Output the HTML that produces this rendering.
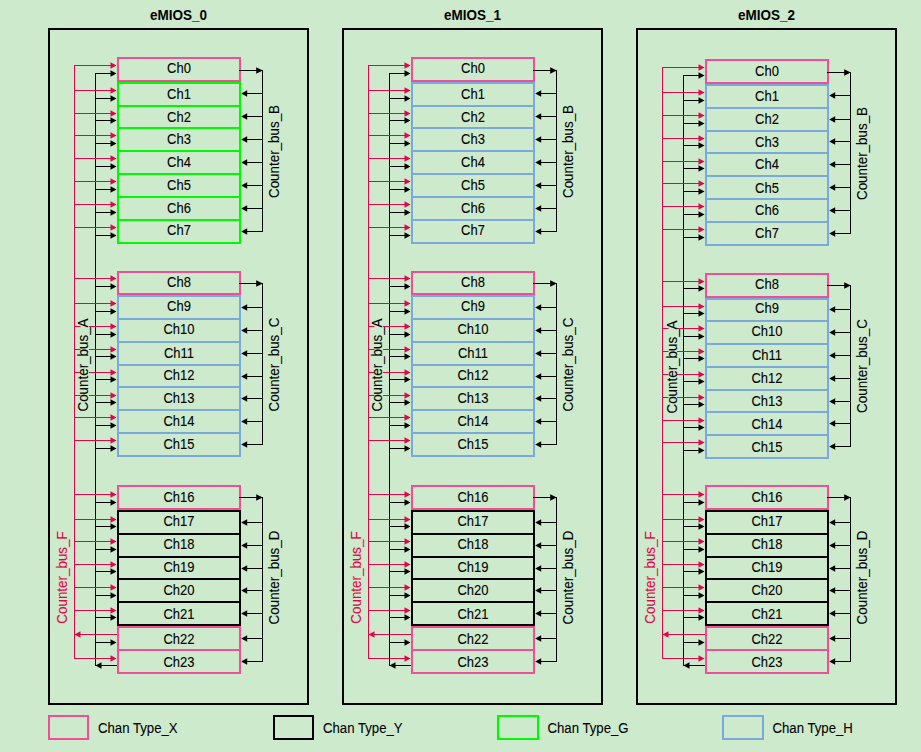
<!DOCTYPE html>
<html><head><meta charset="utf-8"><style>
html,body{margin:0;padding:0;background:#cdeacc;width:921px;height:752px;overflow:hidden;}
svg{display:block;}
text{font-family:"Liberation Sans", sans-serif;stroke-width:0.08px;paint-order:normal;}
</style></head><body>
<svg width="921" height="752" viewBox="0 0 921 752" font-family='"Liberation Sans", sans-serif'>
<rect width="921" height="752" fill="#cdeacc"/>
<rect x="49" y="29" width="259" height="675" fill="none" stroke="#000000" stroke-width="2"/>
<text transform="translate(178.5 19.8) scale(1 1.05)" font-size="13.5" font-weight="bold" text-anchor="middle" fill="#000">eMIOS_0</text>
<path d="M74.5 65.5V658.5" stroke="#e0064a" stroke-width="1" fill="none"/>
<path d="M95.5 73.5V665.5" stroke="#000000" stroke-width="1" fill="none"/>
<path d="M262.5 70.5V231.5" stroke="#000000" stroke-width="1" fill="none"/>
<path d="M262.5 283.5V444.5" stroke="#000000" stroke-width="1" fill="none"/>
<path d="M262.5 497.5V661.5" stroke="#000000" stroke-width="1" fill="none"/>
<rect x="118" y="58" width="122" height="23" fill="none" stroke="#ef4e98" stroke-width="2"/>
<rect x="118" y="83" width="122" height="23" fill="none" stroke="#00f800" stroke-width="2"/>
<rect x="118" y="106" width="122" height="22" fill="none" stroke="#00f800" stroke-width="2"/>
<rect x="118" y="128" width="122" height="23" fill="none" stroke="#00f800" stroke-width="2"/>
<rect x="118" y="151" width="122" height="23" fill="none" stroke="#00f800" stroke-width="2"/>
<rect x="118" y="174" width="122" height="23" fill="none" stroke="#00f800" stroke-width="2"/>
<rect x="118" y="197" width="122" height="23" fill="none" stroke="#00f800" stroke-width="2"/>
<rect x="118" y="220" width="122" height="23" fill="none" stroke="#00f800" stroke-width="2"/>
<rect x="118" y="272" width="122" height="22" fill="none" stroke="#ef4e98" stroke-width="2"/>
<rect x="118" y="296" width="122" height="23" fill="none" stroke="#7aaadc" stroke-width="2"/>
<rect x="118" y="319" width="122" height="23" fill="none" stroke="#7aaadc" stroke-width="2"/>
<rect x="118" y="342" width="122" height="23" fill="none" stroke="#7aaadc" stroke-width="2"/>
<rect x="118" y="365" width="122" height="22" fill="none" stroke="#7aaadc" stroke-width="2"/>
<rect x="118" y="387" width="122" height="23" fill="none" stroke="#7aaadc" stroke-width="2"/>
<rect x="118" y="410" width="122" height="23" fill="none" stroke="#7aaadc" stroke-width="2"/>
<rect x="118" y="433" width="122" height="23" fill="none" stroke="#7aaadc" stroke-width="2"/>
<rect x="118" y="486" width="122" height="23" fill="none" stroke="#ef4e98" stroke-width="2"/>
<rect x="118" y="511" width="122" height="23" fill="none" stroke="#000000" stroke-width="2"/>
<rect x="118" y="534" width="122" height="23" fill="none" stroke="#000000" stroke-width="2"/>
<rect x="118" y="557" width="122" height="22" fill="none" stroke="#000000" stroke-width="2"/>
<rect x="118" y="579" width="122" height="23" fill="none" stroke="#000000" stroke-width="2"/>
<rect x="118" y="602" width="122" height="23" fill="none" stroke="#000000" stroke-width="2"/>
<rect x="118" y="627" width="122" height="23" fill="none" stroke="#ef4e98" stroke-width="2"/>
<rect x="118" y="650" width="122" height="23" fill="none" stroke="#ef4e98" stroke-width="2"/>
<path d="M74.0 65.5H116" stroke="#e0064a" stroke-width="1"/>
<path d="M116.5 65.5L110.5 62.3V68.7Z" fill="#e0064a"/>
<path d="M95.0 73.5H116" stroke="#000000" stroke-width="1"/>
<path d="M116.5 73.5L110.5 70.3V76.7Z" fill="#000000"/>
<path d="M239 70.5H263.0" stroke="#000000" stroke-width="1"/>
<path d="M262.8 70.5L256.2 67.3V73.7Z" fill="#000000"/>
<path d="M74.0 90.5H116" stroke="#e0064a" stroke-width="1"/>
<path d="M116.5 90.5L110.5 87.3V93.7Z" fill="#e0064a"/>
<path d="M95.0 98.5H116" stroke="#000000" stroke-width="1"/>
<path d="M116.5 98.5L110.5 95.3V101.7Z" fill="#000000"/>
<path d="M263.0 93.5H242" stroke="#000000" stroke-width="1"/>
<path d="M241.2 93.5L247.2 90.3V96.7Z" fill="#000000"/>
<path d="M74.0 113.5H116" stroke="#e0064a" stroke-width="1"/>
<path d="M116.5 113.5L110.5 110.3V116.7Z" fill="#e0064a"/>
<path d="M95.0 120.5H116" stroke="#000000" stroke-width="1"/>
<path d="M116.5 120.5L110.5 117.3V123.7Z" fill="#000000"/>
<path d="M263.0 116.5H242" stroke="#000000" stroke-width="1"/>
<path d="M241.2 116.5L247.2 113.3V119.7Z" fill="#000000"/>
<path d="M74.0 135.5H116" stroke="#e0064a" stroke-width="1"/>
<path d="M116.5 135.5L110.5 132.3V138.7Z" fill="#e0064a"/>
<path d="M95.0 143.5H116" stroke="#000000" stroke-width="1"/>
<path d="M116.5 143.5L110.5 140.3V146.7Z" fill="#000000"/>
<path d="M263.0 139.5H242" stroke="#000000" stroke-width="1"/>
<path d="M241.2 139.5L247.2 136.3V142.7Z" fill="#000000"/>
<path d="M74.0 158.5H116" stroke="#e0064a" stroke-width="1"/>
<path d="M116.5 158.5L110.5 155.3V161.7Z" fill="#e0064a"/>
<path d="M95.0 166.5H116" stroke="#000000" stroke-width="1"/>
<path d="M116.5 166.5L110.5 163.3V169.7Z" fill="#000000"/>
<path d="M263.0 162.5H242" stroke="#000000" stroke-width="1"/>
<path d="M241.2 162.5L247.2 159.3V165.7Z" fill="#000000"/>
<path d="M74.0 181.5H116" stroke="#e0064a" stroke-width="1"/>
<path d="M116.5 181.5L110.5 178.3V184.7Z" fill="#e0064a"/>
<path d="M95.0 189.5H116" stroke="#000000" stroke-width="1"/>
<path d="M116.5 189.5L110.5 186.3V192.7Z" fill="#000000"/>
<path d="M263.0 185.5H242" stroke="#000000" stroke-width="1"/>
<path d="M241.2 185.5L247.2 182.3V188.7Z" fill="#000000"/>
<path d="M74.0 204.5H116" stroke="#e0064a" stroke-width="1"/>
<path d="M116.5 204.5L110.5 201.3V207.7Z" fill="#e0064a"/>
<path d="M95.0 212.5H116" stroke="#000000" stroke-width="1"/>
<path d="M116.5 212.5L110.5 209.3V215.7Z" fill="#000000"/>
<path d="M263.0 208.5H242" stroke="#000000" stroke-width="1"/>
<path d="M241.2 208.5L247.2 205.3V211.7Z" fill="#000000"/>
<path d="M74.0 227.5H116" stroke="#e0064a" stroke-width="1"/>
<path d="M116.5 227.5L110.5 224.3V230.7Z" fill="#e0064a"/>
<path d="M95.0 235.5H116" stroke="#000000" stroke-width="1"/>
<path d="M116.5 235.5L110.5 232.3V238.7Z" fill="#000000"/>
<path d="M263.0 231.5H242" stroke="#000000" stroke-width="1"/>
<path d="M241.2 231.5L247.2 228.3V234.7Z" fill="#000000"/>
<path d="M74.0 278.5H116" stroke="#e0064a" stroke-width="1"/>
<path d="M116.5 278.5L110.5 275.3V281.7Z" fill="#e0064a"/>
<path d="M95.0 286.5H116" stroke="#000000" stroke-width="1"/>
<path d="M116.5 286.5L110.5 283.3V289.7Z" fill="#000000"/>
<path d="M239 283.5H263.0" stroke="#000000" stroke-width="1"/>
<path d="M262.8 283.5L256.2 280.3V286.7Z" fill="#000000"/>
<path d="M74.0 303.5H116" stroke="#e0064a" stroke-width="1"/>
<path d="M116.5 303.5L110.5 300.3V306.7Z" fill="#e0064a"/>
<path d="M95.0 311.5H116" stroke="#000000" stroke-width="1"/>
<path d="M116.5 311.5L110.5 308.3V314.7Z" fill="#000000"/>
<path d="M263.0 307.5H242" stroke="#000000" stroke-width="1"/>
<path d="M241.2 307.5L247.2 304.3V310.7Z" fill="#000000"/>
<path d="M74.0 326.5H116" stroke="#e0064a" stroke-width="1"/>
<path d="M116.5 326.5L110.5 323.3V329.7Z" fill="#e0064a"/>
<path d="M95.0 334.5H116" stroke="#000000" stroke-width="1"/>
<path d="M116.5 334.5L110.5 331.3V337.7Z" fill="#000000"/>
<path d="M263.0 330.5H242" stroke="#000000" stroke-width="1"/>
<path d="M241.2 330.5L247.2 327.3V333.7Z" fill="#000000"/>
<path d="M74.0 349.5H116" stroke="#e0064a" stroke-width="1"/>
<path d="M116.5 349.5L110.5 346.3V352.7Z" fill="#e0064a"/>
<path d="M95.0 356.5H116" stroke="#000000" stroke-width="1"/>
<path d="M116.5 356.5L110.5 353.3V359.7Z" fill="#000000"/>
<path d="M263.0 353.5H242" stroke="#000000" stroke-width="1"/>
<path d="M241.2 353.5L247.2 350.3V356.7Z" fill="#000000"/>
<path d="M74.0 372.5H116" stroke="#e0064a" stroke-width="1"/>
<path d="M116.5 372.5L110.5 369.3V375.7Z" fill="#e0064a"/>
<path d="M95.0 379.5H116" stroke="#000000" stroke-width="1"/>
<path d="M116.5 379.5L110.5 376.3V382.7Z" fill="#000000"/>
<path d="M263.0 376.5H242" stroke="#000000" stroke-width="1"/>
<path d="M241.2 376.5L247.2 373.3V379.7Z" fill="#000000"/>
<path d="M74.0 395.5H116" stroke="#e0064a" stroke-width="1"/>
<path d="M116.5 395.5L110.5 392.3V398.7Z" fill="#e0064a"/>
<path d="M95.0 402.5H116" stroke="#000000" stroke-width="1"/>
<path d="M116.5 402.5L110.5 399.3V405.7Z" fill="#000000"/>
<path d="M263.0 398.5H242" stroke="#000000" stroke-width="1"/>
<path d="M241.2 398.5L247.2 395.3V401.7Z" fill="#000000"/>
<path d="M74.0 417.5H116" stroke="#e0064a" stroke-width="1"/>
<path d="M116.5 417.5L110.5 414.3V420.7Z" fill="#e0064a"/>
<path d="M95.0 425.5H116" stroke="#000000" stroke-width="1"/>
<path d="M116.5 425.5L110.5 422.3V428.7Z" fill="#000000"/>
<path d="M263.0 421.5H242" stroke="#000000" stroke-width="1"/>
<path d="M241.2 421.5L247.2 418.3V424.7Z" fill="#000000"/>
<path d="M74.0 440.5H116" stroke="#e0064a" stroke-width="1"/>
<path d="M116.5 440.5L110.5 437.3V443.7Z" fill="#e0064a"/>
<path d="M95.0 448.5H116" stroke="#000000" stroke-width="1"/>
<path d="M116.5 448.5L110.5 445.3V451.7Z" fill="#000000"/>
<path d="M263.0 444.5H242" stroke="#000000" stroke-width="1"/>
<path d="M241.2 444.5L247.2 441.3V447.7Z" fill="#000000"/>
<path d="M74.0 494.5H116" stroke="#e0064a" stroke-width="1"/>
<path d="M116.5 494.5L110.5 491.3V497.7Z" fill="#e0064a"/>
<path d="M95.0 502.5H116" stroke="#000000" stroke-width="1"/>
<path d="M116.5 502.5L110.5 499.3V505.7Z" fill="#000000"/>
<path d="M239 497.5H263.0" stroke="#000000" stroke-width="1"/>
<path d="M262.8 497.5L256.2 494.3V500.7Z" fill="#000000"/>
<path d="M74.0 519.5H116" stroke="#e0064a" stroke-width="1"/>
<path d="M116.5 519.5L110.5 516.3V522.7Z" fill="#e0064a"/>
<path d="M95.0 526.5H116" stroke="#000000" stroke-width="1"/>
<path d="M116.5 526.5L110.5 523.3V529.7Z" fill="#000000"/>
<path d="M263.0 522.5H242" stroke="#000000" stroke-width="1"/>
<path d="M241.2 522.5L247.2 519.3V525.7Z" fill="#000000"/>
<path d="M74.0 541.5H116" stroke="#e0064a" stroke-width="1"/>
<path d="M116.5 541.5L110.5 538.3V544.7Z" fill="#e0064a"/>
<path d="M95.0 549.5H116" stroke="#000000" stroke-width="1"/>
<path d="M116.5 549.5L110.5 546.3V552.7Z" fill="#000000"/>
<path d="M263.0 545.5H242" stroke="#000000" stroke-width="1"/>
<path d="M241.2 545.5L247.2 542.3V548.7Z" fill="#000000"/>
<path d="M74.0 564.5H116" stroke="#e0064a" stroke-width="1"/>
<path d="M116.5 564.5L110.5 561.3V567.7Z" fill="#e0064a"/>
<path d="M95.0 571.5H116" stroke="#000000" stroke-width="1"/>
<path d="M116.5 571.5L110.5 568.3V574.7Z" fill="#000000"/>
<path d="M263.0 568.5H242" stroke="#000000" stroke-width="1"/>
<path d="M241.2 568.5L247.2 565.3V571.7Z" fill="#000000"/>
<path d="M74.0 587.5H116" stroke="#e0064a" stroke-width="1"/>
<path d="M116.5 587.5L110.5 584.3V590.7Z" fill="#e0064a"/>
<path d="M95.0 595.5H116" stroke="#000000" stroke-width="1"/>
<path d="M116.5 595.5L110.5 592.3V598.7Z" fill="#000000"/>
<path d="M263.0 590.5H242" stroke="#000000" stroke-width="1"/>
<path d="M241.2 590.5L247.2 587.3V593.7Z" fill="#000000"/>
<path d="M74.0 610.5H116" stroke="#e0064a" stroke-width="1"/>
<path d="M116.5 610.5L110.5 607.3V613.7Z" fill="#e0064a"/>
<path d="M95.0 617.5H116" stroke="#000000" stroke-width="1"/>
<path d="M116.5 617.5L110.5 614.3V620.7Z" fill="#000000"/>
<path d="M263.0 613.5H242" stroke="#000000" stroke-width="1"/>
<path d="M241.2 613.5L247.2 610.3V616.7Z" fill="#000000"/>
<path d="M117 634.5H74.0" stroke="#e0064a" stroke-width="1"/>
<path d="M74.5 634.5L80.5 631.3V637.7Z" fill="#e0064a"/>
<path d="M95.0 642.5H116" stroke="#000000" stroke-width="1"/>
<path d="M116.5 642.5L110.5 639.3V645.7Z" fill="#000000"/>
<path d="M263.0 638.5H242" stroke="#000000" stroke-width="1"/>
<path d="M241.2 638.5L247.2 635.3V641.7Z" fill="#000000"/>
<path d="M74.0 658.5H116" stroke="#e0064a" stroke-width="1"/>
<path d="M116.5 658.5L110.5 655.3V661.7Z" fill="#e0064a"/>
<path d="M117 665.5H95.0" stroke="#000000" stroke-width="1"/>
<path d="M95.5 665.5L101.5 662.3V668.7Z" fill="#000000"/>
<path d="M263.0 661.5H242" stroke="#000000" stroke-width="1"/>
<path d="M241.2 661.5L247.2 658.3V664.7Z" fill="#000000"/>
<text transform="translate(179 72.5) scale(1 1.1)" font-size="13" text-anchor="middle" fill="#000" stroke="#000">Ch0</text>
<text transform="translate(179 98.6) scale(1 1.1)" font-size="13" text-anchor="middle" fill="#000" stroke="#000">Ch1</text>
<text transform="translate(179 122) scale(1 1.1)" font-size="13" text-anchor="middle" fill="#000" stroke="#000">Ch2</text>
<text transform="translate(179 143.8) scale(1 1.1)" font-size="13" text-anchor="middle" fill="#000" stroke="#000">Ch3</text>
<text transform="translate(179 166.8) scale(1 1.1)" font-size="13" text-anchor="middle" fill="#000" stroke="#000">Ch4</text>
<text transform="translate(179 189.6) scale(1 1.1)" font-size="13" text-anchor="middle" fill="#000" stroke="#000">Ch5</text>
<text transform="translate(179 212.8) scale(1 1.1)" font-size="13" text-anchor="middle" fill="#000" stroke="#000">Ch6</text>
<text transform="translate(179 235.4) scale(1 1.1)" font-size="13" text-anchor="middle" fill="#000" stroke="#000">Ch7</text>
<text transform="translate(179 286.5) scale(1 1.1)" font-size="13" text-anchor="middle" fill="#000" stroke="#000">Ch8</text>
<text transform="translate(179 311.3) scale(1 1.1)" font-size="13" text-anchor="middle" fill="#000" stroke="#000">Ch9</text>
<text transform="translate(179 334.4) scale(1 1.1)" font-size="13" text-anchor="middle" fill="#000" stroke="#000">Ch10</text>
<text transform="translate(179 357.5) scale(1 1.1)" font-size="13" text-anchor="middle" fill="#000" stroke="#000">Ch11</text>
<text transform="translate(179 380.2) scale(1 1.1)" font-size="13" text-anchor="middle" fill="#000" stroke="#000">Ch12</text>
<text transform="translate(179 403.4) scale(1 1.1)" font-size="13" text-anchor="middle" fill="#000" stroke="#000">Ch13</text>
<text transform="translate(179 426.4) scale(1 1.1)" font-size="13" text-anchor="middle" fill="#000" stroke="#000">Ch14</text>
<text transform="translate(179 449.2) scale(1 1.1)" font-size="13" text-anchor="middle" fill="#000" stroke="#000">Ch15</text>
<text transform="translate(179 501.5) scale(1 1.1)" font-size="13" text-anchor="middle" fill="#000" stroke="#000">Ch16</text>
<text transform="translate(179 526.3) scale(1 1.1)" font-size="13" text-anchor="middle" fill="#000" stroke="#000">Ch17</text>
<text transform="translate(179 549.4) scale(1 1.1)" font-size="13" text-anchor="middle" fill="#000" stroke="#000">Ch18</text>
<text transform="translate(179 572.2) scale(1 1.1)" font-size="13" text-anchor="middle" fill="#000" stroke="#000">Ch19</text>
<text transform="translate(179 594.9) scale(1 1.1)" font-size="13" text-anchor="middle" fill="#000" stroke="#000">Ch20</text>
<text transform="translate(179 618.9) scale(1 1.1)" font-size="13" text-anchor="middle" fill="#000" stroke="#000">Ch21</text>
<text transform="translate(179 643.8) scale(1 1.1)" font-size="13" text-anchor="middle" fill="#000" stroke="#000">Ch22</text>
<text transform="translate(179 666.8) scale(1 1.1)" font-size="13" text-anchor="middle" fill="#000" stroke="#000">Ch23</text>
<rect x="80.5" y="320" width="8.5" height="90" fill="#cdeacc"/>
<text transform="translate(88.2 365) rotate(-90) scale(1 1.1)" font-size="13.4" text-anchor="middle" fill="#000000" stroke="#000000">Counter_bus_A</text>
<text transform="translate(279 151.5) rotate(-90) scale(1 1.1)" font-size="13.4" text-anchor="middle" fill="#000000" stroke="#000000">Counter_bus_B</text>
<text transform="translate(279 364.5) rotate(-90) scale(1 1.1)" font-size="13.4" text-anchor="middle" fill="#000000" stroke="#000000">Counter_bus_C</text>
<text transform="translate(279 577.5) rotate(-90) scale(1 1.1)" font-size="13.4" text-anchor="middle" fill="#000000" stroke="#000000">Counter_bus_D</text>
<text transform="translate(66.8 577.5) rotate(-90) scale(1 1.1)" font-size="13.4" text-anchor="middle" fill="#e0064a" stroke="#e0064a">Counter_bus_F</text>
<rect x="343" y="29" width="259" height="675" fill="none" stroke="#000000" stroke-width="2"/>
<text transform="translate(472.5 19.8) scale(1 1.05)" font-size="13.5" font-weight="bold" text-anchor="middle" fill="#000">eMIOS_1</text>
<path d="M368.5 65.5V658.5" stroke="#e0064a" stroke-width="1" fill="none"/>
<path d="M389.5 73.5V665.5" stroke="#000000" stroke-width="1" fill="none"/>
<path d="M556.5 70.5V231.5" stroke="#000000" stroke-width="1" fill="none"/>
<path d="M556.5 283.5V444.5" stroke="#000000" stroke-width="1" fill="none"/>
<path d="M556.5 497.5V661.5" stroke="#000000" stroke-width="1" fill="none"/>
<rect x="412" y="58" width="122" height="23" fill="none" stroke="#ef4e98" stroke-width="2"/>
<rect x="412" y="83" width="122" height="23" fill="none" stroke="#7aaadc" stroke-width="2"/>
<rect x="412" y="106" width="122" height="22" fill="none" stroke="#7aaadc" stroke-width="2"/>
<rect x="412" y="128" width="122" height="23" fill="none" stroke="#7aaadc" stroke-width="2"/>
<rect x="412" y="151" width="122" height="23" fill="none" stroke="#7aaadc" stroke-width="2"/>
<rect x="412" y="174" width="122" height="23" fill="none" stroke="#7aaadc" stroke-width="2"/>
<rect x="412" y="197" width="122" height="23" fill="none" stroke="#7aaadc" stroke-width="2"/>
<rect x="412" y="220" width="122" height="23" fill="none" stroke="#7aaadc" stroke-width="2"/>
<rect x="412" y="272" width="122" height="22" fill="none" stroke="#ef4e98" stroke-width="2"/>
<rect x="412" y="296" width="122" height="23" fill="none" stroke="#7aaadc" stroke-width="2"/>
<rect x="412" y="319" width="122" height="23" fill="none" stroke="#7aaadc" stroke-width="2"/>
<rect x="412" y="342" width="122" height="23" fill="none" stroke="#7aaadc" stroke-width="2"/>
<rect x="412" y="365" width="122" height="22" fill="none" stroke="#7aaadc" stroke-width="2"/>
<rect x="412" y="387" width="122" height="23" fill="none" stroke="#7aaadc" stroke-width="2"/>
<rect x="412" y="410" width="122" height="23" fill="none" stroke="#7aaadc" stroke-width="2"/>
<rect x="412" y="433" width="122" height="23" fill="none" stroke="#7aaadc" stroke-width="2"/>
<rect x="412" y="486" width="122" height="23" fill="none" stroke="#ef4e98" stroke-width="2"/>
<rect x="412" y="511" width="122" height="23" fill="none" stroke="#000000" stroke-width="2"/>
<rect x="412" y="534" width="122" height="23" fill="none" stroke="#000000" stroke-width="2"/>
<rect x="412" y="557" width="122" height="22" fill="none" stroke="#000000" stroke-width="2"/>
<rect x="412" y="579" width="122" height="23" fill="none" stroke="#000000" stroke-width="2"/>
<rect x="412" y="602" width="122" height="23" fill="none" stroke="#000000" stroke-width="2"/>
<rect x="412" y="627" width="122" height="23" fill="none" stroke="#ef4e98" stroke-width="2"/>
<rect x="412" y="650" width="122" height="23" fill="none" stroke="#ef4e98" stroke-width="2"/>
<path d="M368.0 65.5H410" stroke="#e0064a" stroke-width="1"/>
<path d="M410.5 65.5L404.5 62.3V68.7Z" fill="#e0064a"/>
<path d="M389.0 73.5H410" stroke="#000000" stroke-width="1"/>
<path d="M410.5 73.5L404.5 70.3V76.7Z" fill="#000000"/>
<path d="M533 70.5H557.0" stroke="#000000" stroke-width="1"/>
<path d="M556.8 70.5L550.2 67.3V73.7Z" fill="#000000"/>
<path d="M368.0 90.5H410" stroke="#e0064a" stroke-width="1"/>
<path d="M410.5 90.5L404.5 87.3V93.7Z" fill="#e0064a"/>
<path d="M389.0 98.5H410" stroke="#000000" stroke-width="1"/>
<path d="M410.5 98.5L404.5 95.3V101.7Z" fill="#000000"/>
<path d="M557.0 93.5H536" stroke="#000000" stroke-width="1"/>
<path d="M535.2 93.5L541.2 90.3V96.7Z" fill="#000000"/>
<path d="M368.0 113.5H410" stroke="#e0064a" stroke-width="1"/>
<path d="M410.5 113.5L404.5 110.3V116.7Z" fill="#e0064a"/>
<path d="M389.0 120.5H410" stroke="#000000" stroke-width="1"/>
<path d="M410.5 120.5L404.5 117.3V123.7Z" fill="#000000"/>
<path d="M557.0 116.5H536" stroke="#000000" stroke-width="1"/>
<path d="M535.2 116.5L541.2 113.3V119.7Z" fill="#000000"/>
<path d="M368.0 135.5H410" stroke="#e0064a" stroke-width="1"/>
<path d="M410.5 135.5L404.5 132.3V138.7Z" fill="#e0064a"/>
<path d="M389.0 143.5H410" stroke="#000000" stroke-width="1"/>
<path d="M410.5 143.5L404.5 140.3V146.7Z" fill="#000000"/>
<path d="M557.0 139.5H536" stroke="#000000" stroke-width="1"/>
<path d="M535.2 139.5L541.2 136.3V142.7Z" fill="#000000"/>
<path d="M368.0 158.5H410" stroke="#e0064a" stroke-width="1"/>
<path d="M410.5 158.5L404.5 155.3V161.7Z" fill="#e0064a"/>
<path d="M389.0 166.5H410" stroke="#000000" stroke-width="1"/>
<path d="M410.5 166.5L404.5 163.3V169.7Z" fill="#000000"/>
<path d="M557.0 162.5H536" stroke="#000000" stroke-width="1"/>
<path d="M535.2 162.5L541.2 159.3V165.7Z" fill="#000000"/>
<path d="M368.0 181.5H410" stroke="#e0064a" stroke-width="1"/>
<path d="M410.5 181.5L404.5 178.3V184.7Z" fill="#e0064a"/>
<path d="M389.0 189.5H410" stroke="#000000" stroke-width="1"/>
<path d="M410.5 189.5L404.5 186.3V192.7Z" fill="#000000"/>
<path d="M557.0 185.5H536" stroke="#000000" stroke-width="1"/>
<path d="M535.2 185.5L541.2 182.3V188.7Z" fill="#000000"/>
<path d="M368.0 204.5H410" stroke="#e0064a" stroke-width="1"/>
<path d="M410.5 204.5L404.5 201.3V207.7Z" fill="#e0064a"/>
<path d="M389.0 212.5H410" stroke="#000000" stroke-width="1"/>
<path d="M410.5 212.5L404.5 209.3V215.7Z" fill="#000000"/>
<path d="M557.0 208.5H536" stroke="#000000" stroke-width="1"/>
<path d="M535.2 208.5L541.2 205.3V211.7Z" fill="#000000"/>
<path d="M368.0 227.5H410" stroke="#e0064a" stroke-width="1"/>
<path d="M410.5 227.5L404.5 224.3V230.7Z" fill="#e0064a"/>
<path d="M389.0 235.5H410" stroke="#000000" stroke-width="1"/>
<path d="M410.5 235.5L404.5 232.3V238.7Z" fill="#000000"/>
<path d="M557.0 231.5H536" stroke="#000000" stroke-width="1"/>
<path d="M535.2 231.5L541.2 228.3V234.7Z" fill="#000000"/>
<path d="M368.0 278.5H410" stroke="#e0064a" stroke-width="1"/>
<path d="M410.5 278.5L404.5 275.3V281.7Z" fill="#e0064a"/>
<path d="M389.0 286.5H410" stroke="#000000" stroke-width="1"/>
<path d="M410.5 286.5L404.5 283.3V289.7Z" fill="#000000"/>
<path d="M533 283.5H557.0" stroke="#000000" stroke-width="1"/>
<path d="M556.8 283.5L550.2 280.3V286.7Z" fill="#000000"/>
<path d="M368.0 303.5H410" stroke="#e0064a" stroke-width="1"/>
<path d="M410.5 303.5L404.5 300.3V306.7Z" fill="#e0064a"/>
<path d="M389.0 311.5H410" stroke="#000000" stroke-width="1"/>
<path d="M410.5 311.5L404.5 308.3V314.7Z" fill="#000000"/>
<path d="M557.0 307.5H536" stroke="#000000" stroke-width="1"/>
<path d="M535.2 307.5L541.2 304.3V310.7Z" fill="#000000"/>
<path d="M368.0 326.5H410" stroke="#e0064a" stroke-width="1"/>
<path d="M410.5 326.5L404.5 323.3V329.7Z" fill="#e0064a"/>
<path d="M389.0 334.5H410" stroke="#000000" stroke-width="1"/>
<path d="M410.5 334.5L404.5 331.3V337.7Z" fill="#000000"/>
<path d="M557.0 330.5H536" stroke="#000000" stroke-width="1"/>
<path d="M535.2 330.5L541.2 327.3V333.7Z" fill="#000000"/>
<path d="M368.0 349.5H410" stroke="#e0064a" stroke-width="1"/>
<path d="M410.5 349.5L404.5 346.3V352.7Z" fill="#e0064a"/>
<path d="M389.0 356.5H410" stroke="#000000" stroke-width="1"/>
<path d="M410.5 356.5L404.5 353.3V359.7Z" fill="#000000"/>
<path d="M557.0 353.5H536" stroke="#000000" stroke-width="1"/>
<path d="M535.2 353.5L541.2 350.3V356.7Z" fill="#000000"/>
<path d="M368.0 372.5H410" stroke="#e0064a" stroke-width="1"/>
<path d="M410.5 372.5L404.5 369.3V375.7Z" fill="#e0064a"/>
<path d="M389.0 379.5H410" stroke="#000000" stroke-width="1"/>
<path d="M410.5 379.5L404.5 376.3V382.7Z" fill="#000000"/>
<path d="M557.0 376.5H536" stroke="#000000" stroke-width="1"/>
<path d="M535.2 376.5L541.2 373.3V379.7Z" fill="#000000"/>
<path d="M368.0 395.5H410" stroke="#e0064a" stroke-width="1"/>
<path d="M410.5 395.5L404.5 392.3V398.7Z" fill="#e0064a"/>
<path d="M389.0 402.5H410" stroke="#000000" stroke-width="1"/>
<path d="M410.5 402.5L404.5 399.3V405.7Z" fill="#000000"/>
<path d="M557.0 398.5H536" stroke="#000000" stroke-width="1"/>
<path d="M535.2 398.5L541.2 395.3V401.7Z" fill="#000000"/>
<path d="M368.0 417.5H410" stroke="#e0064a" stroke-width="1"/>
<path d="M410.5 417.5L404.5 414.3V420.7Z" fill="#e0064a"/>
<path d="M389.0 425.5H410" stroke="#000000" stroke-width="1"/>
<path d="M410.5 425.5L404.5 422.3V428.7Z" fill="#000000"/>
<path d="M557.0 421.5H536" stroke="#000000" stroke-width="1"/>
<path d="M535.2 421.5L541.2 418.3V424.7Z" fill="#000000"/>
<path d="M368.0 440.5H410" stroke="#e0064a" stroke-width="1"/>
<path d="M410.5 440.5L404.5 437.3V443.7Z" fill="#e0064a"/>
<path d="M389.0 448.5H410" stroke="#000000" stroke-width="1"/>
<path d="M410.5 448.5L404.5 445.3V451.7Z" fill="#000000"/>
<path d="M557.0 444.5H536" stroke="#000000" stroke-width="1"/>
<path d="M535.2 444.5L541.2 441.3V447.7Z" fill="#000000"/>
<path d="M368.0 494.5H410" stroke="#e0064a" stroke-width="1"/>
<path d="M410.5 494.5L404.5 491.3V497.7Z" fill="#e0064a"/>
<path d="M389.0 502.5H410" stroke="#000000" stroke-width="1"/>
<path d="M410.5 502.5L404.5 499.3V505.7Z" fill="#000000"/>
<path d="M533 497.5H557.0" stroke="#000000" stroke-width="1"/>
<path d="M556.8 497.5L550.2 494.3V500.7Z" fill="#000000"/>
<path d="M368.0 519.5H410" stroke="#e0064a" stroke-width="1"/>
<path d="M410.5 519.5L404.5 516.3V522.7Z" fill="#e0064a"/>
<path d="M389.0 526.5H410" stroke="#000000" stroke-width="1"/>
<path d="M410.5 526.5L404.5 523.3V529.7Z" fill="#000000"/>
<path d="M557.0 522.5H536" stroke="#000000" stroke-width="1"/>
<path d="M535.2 522.5L541.2 519.3V525.7Z" fill="#000000"/>
<path d="M368.0 541.5H410" stroke="#e0064a" stroke-width="1"/>
<path d="M410.5 541.5L404.5 538.3V544.7Z" fill="#e0064a"/>
<path d="M389.0 549.5H410" stroke="#000000" stroke-width="1"/>
<path d="M410.5 549.5L404.5 546.3V552.7Z" fill="#000000"/>
<path d="M557.0 545.5H536" stroke="#000000" stroke-width="1"/>
<path d="M535.2 545.5L541.2 542.3V548.7Z" fill="#000000"/>
<path d="M368.0 564.5H410" stroke="#e0064a" stroke-width="1"/>
<path d="M410.5 564.5L404.5 561.3V567.7Z" fill="#e0064a"/>
<path d="M389.0 571.5H410" stroke="#000000" stroke-width="1"/>
<path d="M410.5 571.5L404.5 568.3V574.7Z" fill="#000000"/>
<path d="M557.0 568.5H536" stroke="#000000" stroke-width="1"/>
<path d="M535.2 568.5L541.2 565.3V571.7Z" fill="#000000"/>
<path d="M368.0 587.5H410" stroke="#e0064a" stroke-width="1"/>
<path d="M410.5 587.5L404.5 584.3V590.7Z" fill="#e0064a"/>
<path d="M389.0 595.5H410" stroke="#000000" stroke-width="1"/>
<path d="M410.5 595.5L404.5 592.3V598.7Z" fill="#000000"/>
<path d="M557.0 590.5H536" stroke="#000000" stroke-width="1"/>
<path d="M535.2 590.5L541.2 587.3V593.7Z" fill="#000000"/>
<path d="M368.0 610.5H410" stroke="#e0064a" stroke-width="1"/>
<path d="M410.5 610.5L404.5 607.3V613.7Z" fill="#e0064a"/>
<path d="M389.0 617.5H410" stroke="#000000" stroke-width="1"/>
<path d="M410.5 617.5L404.5 614.3V620.7Z" fill="#000000"/>
<path d="M557.0 613.5H536" stroke="#000000" stroke-width="1"/>
<path d="M535.2 613.5L541.2 610.3V616.7Z" fill="#000000"/>
<path d="M411 634.5H368.0" stroke="#e0064a" stroke-width="1"/>
<path d="M368.5 634.5L374.5 631.3V637.7Z" fill="#e0064a"/>
<path d="M389.0 642.5H410" stroke="#000000" stroke-width="1"/>
<path d="M410.5 642.5L404.5 639.3V645.7Z" fill="#000000"/>
<path d="M557.0 638.5H536" stroke="#000000" stroke-width="1"/>
<path d="M535.2 638.5L541.2 635.3V641.7Z" fill="#000000"/>
<path d="M368.0 658.5H410" stroke="#e0064a" stroke-width="1"/>
<path d="M410.5 658.5L404.5 655.3V661.7Z" fill="#e0064a"/>
<path d="M411 665.5H389.0" stroke="#000000" stroke-width="1"/>
<path d="M389.5 665.5L395.5 662.3V668.7Z" fill="#000000"/>
<path d="M557.0 661.5H536" stroke="#000000" stroke-width="1"/>
<path d="M535.2 661.5L541.2 658.3V664.7Z" fill="#000000"/>
<text transform="translate(473 72.5) scale(1 1.1)" font-size="13" text-anchor="middle" fill="#000" stroke="#000">Ch0</text>
<text transform="translate(473 98.6) scale(1 1.1)" font-size="13" text-anchor="middle" fill="#000" stroke="#000">Ch1</text>
<text transform="translate(473 122) scale(1 1.1)" font-size="13" text-anchor="middle" fill="#000" stroke="#000">Ch2</text>
<text transform="translate(473 143.8) scale(1 1.1)" font-size="13" text-anchor="middle" fill="#000" stroke="#000">Ch3</text>
<text transform="translate(473 166.8) scale(1 1.1)" font-size="13" text-anchor="middle" fill="#000" stroke="#000">Ch4</text>
<text transform="translate(473 189.6) scale(1 1.1)" font-size="13" text-anchor="middle" fill="#000" stroke="#000">Ch5</text>
<text transform="translate(473 212.8) scale(1 1.1)" font-size="13" text-anchor="middle" fill="#000" stroke="#000">Ch6</text>
<text transform="translate(473 235.4) scale(1 1.1)" font-size="13" text-anchor="middle" fill="#000" stroke="#000">Ch7</text>
<text transform="translate(473 286.5) scale(1 1.1)" font-size="13" text-anchor="middle" fill="#000" stroke="#000">Ch8</text>
<text transform="translate(473 311.3) scale(1 1.1)" font-size="13" text-anchor="middle" fill="#000" stroke="#000">Ch9</text>
<text transform="translate(473 334.4) scale(1 1.1)" font-size="13" text-anchor="middle" fill="#000" stroke="#000">Ch10</text>
<text transform="translate(473 357.5) scale(1 1.1)" font-size="13" text-anchor="middle" fill="#000" stroke="#000">Ch11</text>
<text transform="translate(473 380.2) scale(1 1.1)" font-size="13" text-anchor="middle" fill="#000" stroke="#000">Ch12</text>
<text transform="translate(473 403.4) scale(1 1.1)" font-size="13" text-anchor="middle" fill="#000" stroke="#000">Ch13</text>
<text transform="translate(473 426.4) scale(1 1.1)" font-size="13" text-anchor="middle" fill="#000" stroke="#000">Ch14</text>
<text transform="translate(473 449.2) scale(1 1.1)" font-size="13" text-anchor="middle" fill="#000" stroke="#000">Ch15</text>
<text transform="translate(473 501.5) scale(1 1.1)" font-size="13" text-anchor="middle" fill="#000" stroke="#000">Ch16</text>
<text transform="translate(473 526.3) scale(1 1.1)" font-size="13" text-anchor="middle" fill="#000" stroke="#000">Ch17</text>
<text transform="translate(473 549.4) scale(1 1.1)" font-size="13" text-anchor="middle" fill="#000" stroke="#000">Ch18</text>
<text transform="translate(473 572.2) scale(1 1.1)" font-size="13" text-anchor="middle" fill="#000" stroke="#000">Ch19</text>
<text transform="translate(473 594.9) scale(1 1.1)" font-size="13" text-anchor="middle" fill="#000" stroke="#000">Ch20</text>
<text transform="translate(473 618.9) scale(1 1.1)" font-size="13" text-anchor="middle" fill="#000" stroke="#000">Ch21</text>
<text transform="translate(473 643.8) scale(1 1.1)" font-size="13" text-anchor="middle" fill="#000" stroke="#000">Ch22</text>
<text transform="translate(473 666.8) scale(1 1.1)" font-size="13" text-anchor="middle" fill="#000" stroke="#000">Ch23</text>
<rect x="374.5" y="320" width="8.5" height="90" fill="#cdeacc"/>
<text transform="translate(382.2 365) rotate(-90) scale(1 1.1)" font-size="13.4" text-anchor="middle" fill="#000000" stroke="#000000">Counter_bus_A</text>
<text transform="translate(573 151.5) rotate(-90) scale(1 1.1)" font-size="13.4" text-anchor="middle" fill="#000000" stroke="#000000">Counter_bus_B</text>
<text transform="translate(573 364.5) rotate(-90) scale(1 1.1)" font-size="13.4" text-anchor="middle" fill="#000000" stroke="#000000">Counter_bus_C</text>
<text transform="translate(573 577.5) rotate(-90) scale(1 1.1)" font-size="13.4" text-anchor="middle" fill="#000000" stroke="#000000">Counter_bus_D</text>
<text transform="translate(360.8 577.5) rotate(-90) scale(1 1.1)" font-size="13.4" text-anchor="middle" fill="#e0064a" stroke="#e0064a">Counter_bus_F</text>
<rect x="637" y="29" width="259" height="675" fill="none" stroke="#000000" stroke-width="2"/>
<text transform="translate(766.5 19.8) scale(1 1.05)" font-size="13.5" font-weight="bold" text-anchor="middle" fill="#000">eMIOS_2</text>
<path d="M662.5 67.5V658.5" stroke="#e0064a" stroke-width="1" fill="none"/>
<path d="M683.5 75.5V665.5" stroke="#000000" stroke-width="1" fill="none"/>
<path d="M850.5 72.5V233.5" stroke="#000000" stroke-width="1" fill="none"/>
<path d="M850.5 285.5V446.5" stroke="#000000" stroke-width="1" fill="none"/>
<path d="M850.5 497.5V661.5" stroke="#000000" stroke-width="1" fill="none"/>
<rect x="706" y="60" width="122" height="23" fill="none" stroke="#ef4e98" stroke-width="2"/>
<rect x="706" y="85" width="122" height="23" fill="none" stroke="#7aaadc" stroke-width="2"/>
<rect x="706" y="108" width="122" height="23" fill="none" stroke="#7aaadc" stroke-width="2"/>
<rect x="706" y="131" width="122" height="22" fill="none" stroke="#7aaadc" stroke-width="2"/>
<rect x="706" y="153" width="122" height="23" fill="none" stroke="#7aaadc" stroke-width="2"/>
<rect x="706" y="176" width="122" height="23" fill="none" stroke="#7aaadc" stroke-width="2"/>
<rect x="706" y="199" width="122" height="23" fill="none" stroke="#7aaadc" stroke-width="2"/>
<rect x="706" y="222" width="122" height="23" fill="none" stroke="#7aaadc" stroke-width="2"/>
<rect x="706" y="274" width="122" height="23" fill="none" stroke="#ef4e98" stroke-width="2"/>
<rect x="706" y="299" width="122" height="22" fill="none" stroke="#7aaadc" stroke-width="2"/>
<rect x="706" y="321" width="122" height="23" fill="none" stroke="#7aaadc" stroke-width="2"/>
<rect x="706" y="344" width="122" height="23" fill="none" stroke="#7aaadc" stroke-width="2"/>
<rect x="706" y="367" width="122" height="23" fill="none" stroke="#7aaadc" stroke-width="2"/>
<rect x="706" y="390" width="122" height="22" fill="none" stroke="#7aaadc" stroke-width="2"/>
<rect x="706" y="412" width="122" height="23" fill="none" stroke="#7aaadc" stroke-width="2"/>
<rect x="706" y="435" width="122" height="23" fill="none" stroke="#7aaadc" stroke-width="2"/>
<rect x="706" y="486" width="122" height="23" fill="none" stroke="#ef4e98" stroke-width="2"/>
<rect x="706" y="511" width="122" height="23" fill="none" stroke="#000000" stroke-width="2"/>
<rect x="706" y="534" width="122" height="23" fill="none" stroke="#000000" stroke-width="2"/>
<rect x="706" y="557" width="122" height="22" fill="none" stroke="#000000" stroke-width="2"/>
<rect x="706" y="579" width="122" height="23" fill="none" stroke="#000000" stroke-width="2"/>
<rect x="706" y="602" width="122" height="23" fill="none" stroke="#000000" stroke-width="2"/>
<rect x="706" y="627" width="122" height="23" fill="none" stroke="#ef4e98" stroke-width="2"/>
<rect x="706" y="650" width="122" height="23" fill="none" stroke="#ef4e98" stroke-width="2"/>
<path d="M662.0 67.5H704" stroke="#e0064a" stroke-width="1"/>
<path d="M704.5 67.5L698.5 64.3V70.7Z" fill="#e0064a"/>
<path d="M683.0 75.5H704" stroke="#000000" stroke-width="1"/>
<path d="M704.5 75.5L698.5 72.3V78.7Z" fill="#000000"/>
<path d="M827 72.5H851.0" stroke="#000000" stroke-width="1"/>
<path d="M850.8 72.5L844.2 69.3V75.7Z" fill="#000000"/>
<path d="M662.0 92.5H704" stroke="#e0064a" stroke-width="1"/>
<path d="M704.5 92.5L698.5 89.3V95.7Z" fill="#e0064a"/>
<path d="M683.0 100.5H704" stroke="#000000" stroke-width="1"/>
<path d="M704.5 100.5L698.5 97.3V103.7Z" fill="#000000"/>
<path d="M851.0 95.5H830" stroke="#000000" stroke-width="1"/>
<path d="M829.2 95.5L835.2 92.3V98.7Z" fill="#000000"/>
<path d="M662.0 115.5H704" stroke="#e0064a" stroke-width="1"/>
<path d="M704.5 115.5L698.5 112.3V118.7Z" fill="#e0064a"/>
<path d="M683.0 123.5H704" stroke="#000000" stroke-width="1"/>
<path d="M704.5 123.5L698.5 120.3V126.7Z" fill="#000000"/>
<path d="M851.0 119.5H830" stroke="#000000" stroke-width="1"/>
<path d="M829.2 119.5L835.2 116.3V122.7Z" fill="#000000"/>
<path d="M662.0 138.5H704" stroke="#e0064a" stroke-width="1"/>
<path d="M704.5 138.5L698.5 135.3V141.7Z" fill="#e0064a"/>
<path d="M683.0 145.5H704" stroke="#000000" stroke-width="1"/>
<path d="M704.5 145.5L698.5 142.3V148.7Z" fill="#000000"/>
<path d="M851.0 141.5H830" stroke="#000000" stroke-width="1"/>
<path d="M829.2 141.5L835.2 138.3V144.7Z" fill="#000000"/>
<path d="M662.0 161.5H704" stroke="#e0064a" stroke-width="1"/>
<path d="M704.5 161.5L698.5 158.3V164.7Z" fill="#e0064a"/>
<path d="M683.0 168.5H704" stroke="#000000" stroke-width="1"/>
<path d="M704.5 168.5L698.5 165.3V171.7Z" fill="#000000"/>
<path d="M851.0 164.5H830" stroke="#000000" stroke-width="1"/>
<path d="M829.2 164.5L835.2 161.3V167.7Z" fill="#000000"/>
<path d="M662.0 183.5H704" stroke="#e0064a" stroke-width="1"/>
<path d="M704.5 183.5L698.5 180.3V186.7Z" fill="#e0064a"/>
<path d="M683.0 191.5H704" stroke="#000000" stroke-width="1"/>
<path d="M704.5 191.5L698.5 188.3V194.7Z" fill="#000000"/>
<path d="M851.0 187.5H830" stroke="#000000" stroke-width="1"/>
<path d="M829.2 187.5L835.2 184.3V190.7Z" fill="#000000"/>
<path d="M662.0 206.5H704" stroke="#e0064a" stroke-width="1"/>
<path d="M704.5 206.5L698.5 203.3V209.7Z" fill="#e0064a"/>
<path d="M683.0 214.5H704" stroke="#000000" stroke-width="1"/>
<path d="M704.5 214.5L698.5 211.3V217.7Z" fill="#000000"/>
<path d="M851.0 210.5H830" stroke="#000000" stroke-width="1"/>
<path d="M829.2 210.5L835.2 207.3V213.7Z" fill="#000000"/>
<path d="M662.0 229.5H704" stroke="#e0064a" stroke-width="1"/>
<path d="M704.5 229.5L698.5 226.3V232.7Z" fill="#e0064a"/>
<path d="M683.0 237.5H704" stroke="#000000" stroke-width="1"/>
<path d="M704.5 237.5L698.5 234.3V240.7Z" fill="#000000"/>
<path d="M851.0 233.5H830" stroke="#000000" stroke-width="1"/>
<path d="M829.2 233.5L835.2 230.3V236.7Z" fill="#000000"/>
<path d="M662.0 281.5H704" stroke="#e0064a" stroke-width="1"/>
<path d="M704.5 281.5L698.5 278.3V284.7Z" fill="#e0064a"/>
<path d="M683.0 288.5H704" stroke="#000000" stroke-width="1"/>
<path d="M704.5 288.5L698.5 285.3V291.7Z" fill="#000000"/>
<path d="M827 285.5H851.0" stroke="#000000" stroke-width="1"/>
<path d="M850.8 285.5L844.2 282.3V288.7Z" fill="#000000"/>
<path d="M662.0 306.5H704" stroke="#e0064a" stroke-width="1"/>
<path d="M704.5 306.5L698.5 303.3V309.7Z" fill="#e0064a"/>
<path d="M683.0 313.5H704" stroke="#000000" stroke-width="1"/>
<path d="M704.5 313.5L698.5 310.3V316.7Z" fill="#000000"/>
<path d="M851.0 309.5H830" stroke="#000000" stroke-width="1"/>
<path d="M829.2 309.5L835.2 306.3V312.7Z" fill="#000000"/>
<path d="M662.0 328.5H704" stroke="#e0064a" stroke-width="1"/>
<path d="M704.5 328.5L698.5 325.3V331.7Z" fill="#e0064a"/>
<path d="M683.0 336.5H704" stroke="#000000" stroke-width="1"/>
<path d="M704.5 336.5L698.5 333.3V339.7Z" fill="#000000"/>
<path d="M851.0 332.5H830" stroke="#000000" stroke-width="1"/>
<path d="M829.2 332.5L835.2 329.3V335.7Z" fill="#000000"/>
<path d="M662.0 351.5H704" stroke="#e0064a" stroke-width="1"/>
<path d="M704.5 351.5L698.5 348.3V354.7Z" fill="#e0064a"/>
<path d="M683.0 358.5H704" stroke="#000000" stroke-width="1"/>
<path d="M704.5 358.5L698.5 355.3V361.7Z" fill="#000000"/>
<path d="M851.0 355.5H830" stroke="#000000" stroke-width="1"/>
<path d="M829.2 355.5L835.2 352.3V358.7Z" fill="#000000"/>
<path d="M662.0 374.5H704" stroke="#e0064a" stroke-width="1"/>
<path d="M704.5 374.5L698.5 371.3V377.7Z" fill="#e0064a"/>
<path d="M683.0 381.5H704" stroke="#000000" stroke-width="1"/>
<path d="M704.5 381.5L698.5 378.3V384.7Z" fill="#000000"/>
<path d="M851.0 378.5H830" stroke="#000000" stroke-width="1"/>
<path d="M829.2 378.5L835.2 375.3V381.7Z" fill="#000000"/>
<path d="M662.0 397.5H704" stroke="#e0064a" stroke-width="1"/>
<path d="M704.5 397.5L698.5 394.3V400.7Z" fill="#e0064a"/>
<path d="M683.0 404.5H704" stroke="#000000" stroke-width="1"/>
<path d="M704.5 404.5L698.5 401.3V407.7Z" fill="#000000"/>
<path d="M851.0 401.5H830" stroke="#000000" stroke-width="1"/>
<path d="M829.2 401.5L835.2 398.3V404.7Z" fill="#000000"/>
<path d="M662.0 420.5H704" stroke="#e0064a" stroke-width="1"/>
<path d="M704.5 420.5L698.5 417.3V423.7Z" fill="#e0064a"/>
<path d="M683.0 427.5H704" stroke="#000000" stroke-width="1"/>
<path d="M704.5 427.5L698.5 424.3V430.7Z" fill="#000000"/>
<path d="M851.0 423.5H830" stroke="#000000" stroke-width="1"/>
<path d="M829.2 423.5L835.2 420.3V426.7Z" fill="#000000"/>
<path d="M662.0 442.5H704" stroke="#e0064a" stroke-width="1"/>
<path d="M704.5 442.5L698.5 439.3V445.7Z" fill="#e0064a"/>
<path d="M683.0 450.5H704" stroke="#000000" stroke-width="1"/>
<path d="M704.5 450.5L698.5 447.3V453.7Z" fill="#000000"/>
<path d="M851.0 446.5H830" stroke="#000000" stroke-width="1"/>
<path d="M829.2 446.5L835.2 443.3V449.7Z" fill="#000000"/>
<path d="M662.0 494.5H704" stroke="#e0064a" stroke-width="1"/>
<path d="M704.5 494.5L698.5 491.3V497.7Z" fill="#e0064a"/>
<path d="M683.0 502.5H704" stroke="#000000" stroke-width="1"/>
<path d="M704.5 502.5L698.5 499.3V505.7Z" fill="#000000"/>
<path d="M827 497.5H851.0" stroke="#000000" stroke-width="1"/>
<path d="M850.8 497.5L844.2 494.3V500.7Z" fill="#000000"/>
<path d="M662.0 519.5H704" stroke="#e0064a" stroke-width="1"/>
<path d="M704.5 519.5L698.5 516.3V522.7Z" fill="#e0064a"/>
<path d="M683.0 526.5H704" stroke="#000000" stroke-width="1"/>
<path d="M704.5 526.5L698.5 523.3V529.7Z" fill="#000000"/>
<path d="M851.0 522.5H830" stroke="#000000" stroke-width="1"/>
<path d="M829.2 522.5L835.2 519.3V525.7Z" fill="#000000"/>
<path d="M662.0 541.5H704" stroke="#e0064a" stroke-width="1"/>
<path d="M704.5 541.5L698.5 538.3V544.7Z" fill="#e0064a"/>
<path d="M683.0 549.5H704" stroke="#000000" stroke-width="1"/>
<path d="M704.5 549.5L698.5 546.3V552.7Z" fill="#000000"/>
<path d="M851.0 545.5H830" stroke="#000000" stroke-width="1"/>
<path d="M829.2 545.5L835.2 542.3V548.7Z" fill="#000000"/>
<path d="M662.0 564.5H704" stroke="#e0064a" stroke-width="1"/>
<path d="M704.5 564.5L698.5 561.3V567.7Z" fill="#e0064a"/>
<path d="M683.0 571.5H704" stroke="#000000" stroke-width="1"/>
<path d="M704.5 571.5L698.5 568.3V574.7Z" fill="#000000"/>
<path d="M851.0 568.5H830" stroke="#000000" stroke-width="1"/>
<path d="M829.2 568.5L835.2 565.3V571.7Z" fill="#000000"/>
<path d="M662.0 587.5H704" stroke="#e0064a" stroke-width="1"/>
<path d="M704.5 587.5L698.5 584.3V590.7Z" fill="#e0064a"/>
<path d="M683.0 595.5H704" stroke="#000000" stroke-width="1"/>
<path d="M704.5 595.5L698.5 592.3V598.7Z" fill="#000000"/>
<path d="M851.0 590.5H830" stroke="#000000" stroke-width="1"/>
<path d="M829.2 590.5L835.2 587.3V593.7Z" fill="#000000"/>
<path d="M662.0 610.5H704" stroke="#e0064a" stroke-width="1"/>
<path d="M704.5 610.5L698.5 607.3V613.7Z" fill="#e0064a"/>
<path d="M683.0 617.5H704" stroke="#000000" stroke-width="1"/>
<path d="M704.5 617.5L698.5 614.3V620.7Z" fill="#000000"/>
<path d="M851.0 613.5H830" stroke="#000000" stroke-width="1"/>
<path d="M829.2 613.5L835.2 610.3V616.7Z" fill="#000000"/>
<path d="M705 634.5H662.0" stroke="#e0064a" stroke-width="1"/>
<path d="M662.5 634.5L668.5 631.3V637.7Z" fill="#e0064a"/>
<path d="M683.0 642.5H704" stroke="#000000" stroke-width="1"/>
<path d="M704.5 642.5L698.5 639.3V645.7Z" fill="#000000"/>
<path d="M851.0 638.5H830" stroke="#000000" stroke-width="1"/>
<path d="M829.2 638.5L835.2 635.3V641.7Z" fill="#000000"/>
<path d="M662.0 658.5H704" stroke="#e0064a" stroke-width="1"/>
<path d="M704.5 658.5L698.5 655.3V661.7Z" fill="#e0064a"/>
<path d="M705 665.5H683.0" stroke="#000000" stroke-width="1"/>
<path d="M683.5 665.5L689.5 662.3V668.7Z" fill="#000000"/>
<path d="M851.0 661.5H830" stroke="#000000" stroke-width="1"/>
<path d="M829.2 661.5L835.2 658.3V664.7Z" fill="#000000"/>
<text transform="translate(767 75.7) scale(1 1.1)" font-size="13" text-anchor="middle" fill="#000" stroke="#000">Ch0</text>
<text transform="translate(767 100.5) scale(1 1.1)" font-size="13" text-anchor="middle" fill="#000" stroke="#000">Ch1</text>
<text transform="translate(767 123.6) scale(1 1.1)" font-size="13" text-anchor="middle" fill="#000" stroke="#000">Ch2</text>
<text transform="translate(767 146.75) scale(1 1.1)" font-size="13" text-anchor="middle" fill="#000" stroke="#000">Ch3</text>
<text transform="translate(767 168.5) scale(1 1.1)" font-size="13" text-anchor="middle" fill="#000" stroke="#000">Ch4</text>
<text transform="translate(767 192.7) scale(1 1.1)" font-size="13" text-anchor="middle" fill="#000" stroke="#000">Ch5</text>
<text transform="translate(767 214.6) scale(1 1.1)" font-size="13" text-anchor="middle" fill="#000" stroke="#000">Ch6</text>
<text transform="translate(767 238.2) scale(1 1.1)" font-size="13" text-anchor="middle" fill="#000" stroke="#000">Ch7</text>
<text transform="translate(767 288.9) scale(1 1.1)" font-size="13" text-anchor="middle" fill="#000" stroke="#000">Ch8</text>
<text transform="translate(767 313.2) scale(1 1.1)" font-size="13" text-anchor="middle" fill="#000" stroke="#000">Ch9</text>
<text transform="translate(767 336.3) scale(1 1.1)" font-size="13" text-anchor="middle" fill="#000" stroke="#000">Ch10</text>
<text transform="translate(767 359.5) scale(1 1.1)" font-size="13" text-anchor="middle" fill="#000" stroke="#000">Ch11</text>
<text transform="translate(767 382.5) scale(1 1.1)" font-size="13" text-anchor="middle" fill="#000" stroke="#000">Ch12</text>
<text transform="translate(767 405.6) scale(1 1.1)" font-size="13" text-anchor="middle" fill="#000" stroke="#000">Ch13</text>
<text transform="translate(767 428.5) scale(1 1.1)" font-size="13" text-anchor="middle" fill="#000" stroke="#000">Ch14</text>
<text transform="translate(767 451.6) scale(1 1.1)" font-size="13" text-anchor="middle" fill="#000" stroke="#000">Ch15</text>
<text transform="translate(767 501.5) scale(1 1.1)" font-size="13" text-anchor="middle" fill="#000" stroke="#000">Ch16</text>
<text transform="translate(767 526.3) scale(1 1.1)" font-size="13" text-anchor="middle" fill="#000" stroke="#000">Ch17</text>
<text transform="translate(767 549.4) scale(1 1.1)" font-size="13" text-anchor="middle" fill="#000" stroke="#000">Ch18</text>
<text transform="translate(767 572.2) scale(1 1.1)" font-size="13" text-anchor="middle" fill="#000" stroke="#000">Ch19</text>
<text transform="translate(767 594.9) scale(1 1.1)" font-size="13" text-anchor="middle" fill="#000" stroke="#000">Ch20</text>
<text transform="translate(767 618.9) scale(1 1.1)" font-size="13" text-anchor="middle" fill="#000" stroke="#000">Ch21</text>
<text transform="translate(767 643.8) scale(1 1.1)" font-size="13" text-anchor="middle" fill="#000" stroke="#000">Ch22</text>
<text transform="translate(767 666.8) scale(1 1.1)" font-size="13" text-anchor="middle" fill="#000" stroke="#000">Ch23</text>
<rect x="668.5" y="322" width="8.5" height="90" fill="#cdeacc"/>
<text transform="translate(676.9000000000001 367) rotate(-90) scale(1 1.1)" font-size="13.4" text-anchor="middle" fill="#000000" stroke="#000000">Counter_bus_A</text>
<text transform="translate(867 153.5) rotate(-90) scale(1 1.1)" font-size="13.4" text-anchor="middle" fill="#000000" stroke="#000000">Counter_bus_B</text>
<text transform="translate(867 366) rotate(-90) scale(1 1.1)" font-size="13.4" text-anchor="middle" fill="#000000" stroke="#000000">Counter_bus_C</text>
<text transform="translate(867 577.5) rotate(-90) scale(1 1.1)" font-size="13.4" text-anchor="middle" fill="#000000" stroke="#000000">Counter_bus_D</text>
<text transform="translate(654.8 577.5) rotate(-90) scale(1 1.1)" font-size="13.4" text-anchor="middle" fill="#e0064a" stroke="#e0064a">Counter_bus_F</text>
<rect x="49" y="716" width="39" height="23" fill="none" stroke="#ef4e98" stroke-width="2"/>
<text transform="translate(98 733.2) scale(1 1.1)" font-size="13.2" fill="#000" stroke="#000">Chan Type_X</text>
<rect x="274" y="716" width="39" height="23" fill="none" stroke="#000000" stroke-width="2"/>
<text transform="translate(323 733.2) scale(1 1.1)" font-size="13.2" fill="#000" stroke="#000">Chan Type_Y</text>
<rect x="498" y="716" width="40" height="23" fill="none" stroke="#00f800" stroke-width="2"/>
<text transform="translate(547.5 733.2) scale(1 1.1)" font-size="13.2" fill="#000" stroke="#000">Chan Type_G</text>
<rect x="723" y="716" width="40" height="23" fill="none" stroke="#7aaadc" stroke-width="2"/>
<text transform="translate(772.5 733.2) scale(1 1.1)" font-size="13.2" fill="#000" stroke="#000">Chan Type_H</text>
</svg>
</body></html>
